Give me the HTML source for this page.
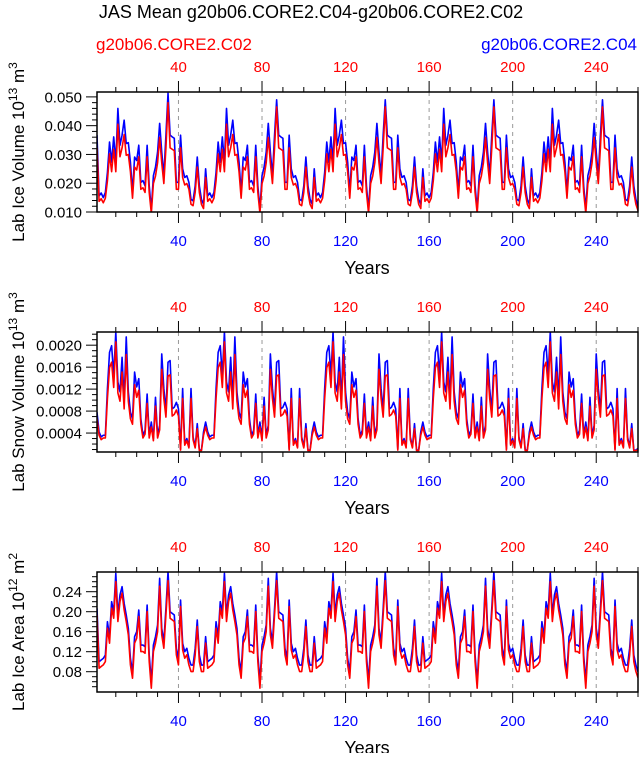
<!DOCTYPE html>
<html><head><meta charset="utf-8"><style>
html,body{margin:0;padding:0;background:#fff}
svg text{font-family:"Liberation Sans",Arial,sans-serif}
</style></head><body>
<svg id="chart" width="639" height="753" xmlns="http://www.w3.org/2000/svg">
<text x="311" y="18" font-size="18" text-anchor="middle">JAS Mean g20b06.CORE2.C04-g20b06.CORE2.C02</text>
<text x="96" y="50" font-size="17" fill="#ff0000">g20b06.CORE2.C02</text>
<text x="637" y="50" font-size="17" fill="#0000ff" text-anchor="end">g20b06.CORE2.C04</text>
</svg>
<script>
const years = [];
for (let i = 1; i <= 260; i++) years.push(i);
const xTicks = [40, 80, 120, 160, 200, 240];
const xTickLabels = ["40", "80", "120", "160", "200", "240"];

const iceVolBlue = [
0.0367,0.0156,0.0166,0.0150,0.0168,0.0238,0.0343,0.0273,0.0361,0.0273,0.0460,0.0332,0.0367,0.0419,0.0338,0.0341,0.0273,0.0168,0.0291,0.0279,0.0332,0.0203,0.0209,0.0191,0.0332,0.0191,0.0109,0.0226,0.0256,0.0308,0.0408,0.0308,0.0226,0.0367,0.0513,0.0367,0.0361,0.0356,0.0203,0.0203,0.0367,0.0250,0.0220,0.0226,0.0203,0.0144,0.0139,0.0191,0.0291,0.0191,0.0144,0.0127,
0.0250,0.0156,0.0166,0.0150,0.0168,0.0238,0.0343,0.0273,0.0361,0.0273,0.0460,0.0332,0.0367,0.0419,0.0338,0.0341,0.0273,0.0168,0.0291,0.0279,0.0332,0.0203,0.0209,0.0191,0.0332,0.0191,0.0109,0.0226,0.0256,0.0308,0.0408,0.0308,0.0226,0.0367,0.0490,0.0367,0.0361,0.0356,0.0203,0.0203,0.0367,0.0250,0.0220,0.0226,0.0203,0.0144,0.0139,0.0191,0.0291,0.0191,0.0144,0.0127,
0.0250,0.0156,0.0166,0.0150,0.0168,0.0238,0.0343,0.0273,0.0361,0.0273,0.0460,0.0332,0.0367,0.0419,0.0338,0.0341,0.0273,0.0168,0.0291,0.0279,0.0332,0.0203,0.0209,0.0191,0.0332,0.0191,0.0109,0.0226,0.0256,0.0308,0.0408,0.0308,0.0226,0.0367,0.0490,0.0367,0.0361,0.0356,0.0203,0.0203,0.0367,0.0250,0.0220,0.0226,0.0203,0.0144,0.0139,0.0191,0.0291,0.0191,0.0144,0.0127,
0.0250,0.0156,0.0166,0.0150,0.0168,0.0238,0.0343,0.0273,0.0361,0.0273,0.0460,0.0332,0.0367,0.0419,0.0338,0.0341,0.0273,0.0168,0.0291,0.0279,0.0332,0.0203,0.0209,0.0191,0.0332,0.0191,0.0109,0.0226,0.0256,0.0308,0.0408,0.0308,0.0226,0.0367,0.0490,0.0367,0.0361,0.0356,0.0203,0.0203,0.0367,0.0250,0.0220,0.0226,0.0203,0.0144,0.0139,0.0191,0.0291,0.0191,0.0144,0.0127,
0.0250,0.0156,0.0166,0.0150,0.0168,0.0238,0.0343,0.0273,0.0361,0.0273,0.0460,0.0332,0.0367,0.0419,0.0338,0.0341,0.0273,0.0168,0.0291,0.0279,0.0332,0.0203,0.0209,0.0191,0.0332,0.0191,0.0109,0.0226,0.0256,0.0308,0.0408,0.0308,0.0226,0.0367,0.0490,0.0367,0.0361,0.0356,0.0203,0.0203,0.0367,0.0250,0.0220,0.0226,0.0203,0.0144,0.0139,0.0191,0.0291,0.0191,0.0144,0.0120];
const iceVolRed = [
0.0323,0.0137,0.0146,0.0132,0.0148,0.0209,0.0302,0.0240,0.0318,0.0240,0.0405,0.0292,0.0323,0.0369,0.0297,0.0300,0.0240,0.0148,0.0256,0.0246,0.0292,0.0179,0.0184,0.0168,0.0292,0.0168,0.0096,0.0199,0.0225,0.0271,0.0359,0.0271,0.0199,0.0323,0.0480,0.0323,0.0318,0.0313,0.0179,0.0179,0.0323,0.0220,0.0194,0.0199,0.0179,0.0127,0.0122,0.0168,0.0256,0.0168,0.0127,0.0112,
0.0220,0.0137,0.0146,0.0132,0.0148,0.0209,0.0302,0.0240,0.0318,0.0240,0.0405,0.0292,0.0323,0.0369,0.0297,0.0300,0.0240,0.0148,0.0256,0.0246,0.0292,0.0179,0.0184,0.0168,0.0292,0.0168,0.0096,0.0199,0.0225,0.0271,0.0359,0.0271,0.0199,0.0323,0.0465,0.0323,0.0318,0.0313,0.0179,0.0179,0.0323,0.0220,0.0194,0.0199,0.0179,0.0127,0.0122,0.0168,0.0256,0.0168,0.0127,0.0112,
0.0220,0.0137,0.0146,0.0132,0.0148,0.0209,0.0302,0.0240,0.0318,0.0240,0.0405,0.0292,0.0323,0.0369,0.0297,0.0300,0.0240,0.0148,0.0256,0.0246,0.0292,0.0179,0.0184,0.0168,0.0292,0.0168,0.0096,0.0199,0.0225,0.0271,0.0359,0.0271,0.0199,0.0323,0.0465,0.0323,0.0318,0.0313,0.0179,0.0179,0.0323,0.0220,0.0194,0.0199,0.0179,0.0127,0.0122,0.0168,0.0256,0.0168,0.0127,0.0112,
0.0220,0.0137,0.0146,0.0132,0.0148,0.0209,0.0302,0.0240,0.0318,0.0240,0.0405,0.0292,0.0323,0.0369,0.0297,0.0300,0.0240,0.0148,0.0256,0.0246,0.0292,0.0179,0.0184,0.0168,0.0292,0.0168,0.0096,0.0199,0.0225,0.0271,0.0359,0.0271,0.0199,0.0323,0.0465,0.0323,0.0318,0.0313,0.0179,0.0179,0.0323,0.0220,0.0194,0.0199,0.0179,0.0127,0.0122,0.0168,0.0256,0.0168,0.0127,0.0112,
0.0220,0.0137,0.0146,0.0132,0.0148,0.0209,0.0302,0.0240,0.0318,0.0240,0.0405,0.0292,0.0323,0.0369,0.0297,0.0300,0.0240,0.0148,0.0256,0.0246,0.0292,0.0179,0.0184,0.0168,0.0292,0.0168,0.0096,0.0199,0.0225,0.0271,0.0359,0.0271,0.0199,0.0323,0.0465,0.0323,0.0318,0.0313,0.0179,0.0179,0.0323,0.0220,0.0194,0.0199,0.0179,0.0127,0.0122,0.0168,0.0256,0.0168,0.0127,0.0105];

const snowBlue = [
0.00078,0.00042,0.00033,0.00036,0.00036,0.00121,0.00187,0.00199,0.00145,0.00224,0.00133,0.00115,0.00178,0.00099,0.00215,0.00115,0.00078,0.00066,0.00151,0.00124,0.00139,0.00066,0.00036,0.00045,0.00111,0.00036,0.00060,0.00030,0.00105,0.00036,0.00054,0.00184,0.00121,0.00081,0.00169,0.00172,0.00084,0.00087,0.00096,0.00084,0.00011,0.00121,0.00021,0.00030,0.00015,0.00121,0.00033,0.00015,0.00057,0.00009,0.00009,0.00042,
0.00060,0.00042,0.00033,0.00036,0.00036,0.00121,0.00187,0.00199,0.00145,0.00224,0.00133,0.00115,0.00178,0.00099,0.00215,0.00115,0.00078,0.00066,0.00151,0.00124,0.00139,0.00066,0.00036,0.00045,0.00111,0.00036,0.00060,0.00030,0.00105,0.00036,0.00054,0.00184,0.00121,0.00081,0.00169,0.00172,0.00084,0.00087,0.00096,0.00084,0.00011,0.00121,0.00021,0.00030,0.00015,0.00121,0.00033,0.00015,0.00057,0.00009,0.00009,0.00042,
0.00060,0.00042,0.00033,0.00036,0.00036,0.00121,0.00187,0.00199,0.00145,0.00224,0.00133,0.00115,0.00178,0.00099,0.00215,0.00115,0.00078,0.00066,0.00151,0.00124,0.00139,0.00066,0.00036,0.00045,0.00111,0.00036,0.00060,0.00030,0.00105,0.00036,0.00054,0.00184,0.00121,0.00081,0.00169,0.00172,0.00084,0.00087,0.00096,0.00084,0.00011,0.00121,0.00021,0.00030,0.00015,0.00121,0.00033,0.00015,0.00057,0.00009,0.00009,0.00042,
0.00060,0.00042,0.00033,0.00036,0.00036,0.00121,0.00187,0.00199,0.00145,0.00224,0.00133,0.00115,0.00178,0.00099,0.00215,0.00115,0.00078,0.00066,0.00151,0.00124,0.00139,0.00066,0.00036,0.00045,0.00111,0.00036,0.00060,0.00030,0.00105,0.00036,0.00054,0.00184,0.00121,0.00081,0.00169,0.00172,0.00084,0.00087,0.00096,0.00084,0.00011,0.00121,0.00021,0.00030,0.00015,0.00121,0.00033,0.00015,0.00057,0.00009,0.00009,0.00042,
0.00060,0.00042,0.00033,0.00036,0.00036,0.00121,0.00187,0.00199,0.00145,0.00224,0.00133,0.00115,0.00178,0.00099,0.00215,0.00115,0.00078,0.00066,0.00151,0.00124,0.00139,0.00066,0.00036,0.00045,0.00111,0.00036,0.00060,0.00030,0.00105,0.00036,0.00054,0.00184,0.00121,0.00081,0.00169,0.00172,0.00084,0.00087,0.00096,0.00084,0.00011,0.00121,0.00021,0.00030,0.00015,0.00121,0.00033,0.00015,0.00057,0.00009,0.00009,0.00012];
const snowRed = [
0.00066,0.00036,0.00028,0.00031,0.00031,0.00103,0.00159,0.00169,0.00123,0.00206,0.00113,0.00098,0.00151,0.00084,0.00183,0.00098,0.00066,0.00056,0.00128,0.00105,0.00118,0.00056,0.00031,0.00038,0.00094,0.00031,0.00051,0.00026,0.00089,0.00031,0.00046,0.00156,0.00103,0.00069,0.00144,0.00146,0.00071,0.00074,0.00082,0.00071,0.00009,0.00103,0.00018,0.00026,0.00013,0.00103,0.00028,0.00013,0.00048,0.00008,0.00008,0.00036,
0.00051,0.00036,0.00028,0.00031,0.00031,0.00103,0.00159,0.00169,0.00123,0.00206,0.00113,0.00098,0.00151,0.00084,0.00183,0.00098,0.00066,0.00056,0.00128,0.00105,0.00118,0.00056,0.00031,0.00038,0.00094,0.00031,0.00051,0.00026,0.00089,0.00031,0.00046,0.00156,0.00103,0.00069,0.00144,0.00146,0.00071,0.00074,0.00082,0.00071,0.00009,0.00103,0.00018,0.00026,0.00013,0.00103,0.00028,0.00013,0.00048,0.00008,0.00008,0.00036,
0.00051,0.00036,0.00028,0.00031,0.00031,0.00103,0.00159,0.00169,0.00123,0.00206,0.00113,0.00098,0.00151,0.00084,0.00183,0.00098,0.00066,0.00056,0.00128,0.00105,0.00118,0.00056,0.00031,0.00038,0.00094,0.00031,0.00051,0.00026,0.00089,0.00031,0.00046,0.00156,0.00103,0.00069,0.00144,0.00146,0.00071,0.00074,0.00082,0.00071,0.00009,0.00103,0.00018,0.00026,0.00013,0.00103,0.00028,0.00013,0.00048,0.00008,0.00008,0.00036,
0.00051,0.00036,0.00028,0.00031,0.00031,0.00103,0.00159,0.00169,0.00123,0.00206,0.00113,0.00098,0.00151,0.00084,0.00183,0.00098,0.00066,0.00056,0.00128,0.00105,0.00118,0.00056,0.00031,0.00038,0.00094,0.00031,0.00051,0.00026,0.00089,0.00031,0.00046,0.00156,0.00103,0.00069,0.00144,0.00146,0.00071,0.00074,0.00082,0.00071,0.00009,0.00103,0.00018,0.00026,0.00013,0.00103,0.00028,0.00013,0.00048,0.00008,0.00008,0.00036,
0.00051,0.00036,0.00028,0.00031,0.00031,0.00103,0.00159,0.00169,0.00123,0.00206,0.00113,0.00098,0.00151,0.00084,0.00183,0.00098,0.00066,0.00056,0.00128,0.00105,0.00118,0.00056,0.00031,0.00038,0.00094,0.00031,0.00051,0.00026,0.00089,0.00031,0.00046,0.00156,0.00103,0.00069,0.00144,0.00146,0.00071,0.00074,0.00082,0.00071,0.00009,0.00103,0.00018,0.00026,0.00013,0.00103,0.00028,0.00013,0.00048,0.00008,0.00008,0.00010];

const areaBlue = [
0.2067,0.0999,0.1033,0.1066,0.1133,0.1800,0.1500,0.2200,0.2000,0.2767,0.1934,0.2334,0.2500,0.2167,0.1934,0.1667,0.1066,0.0800,0.1500,0.1600,0.2034,0.1333,0.1333,0.1300,0.2134,0.1133,0.0600,0.1333,0.1500,0.1733,0.2667,0.1667,0.1400,0.2067,0.2800,0.2000,0.1967,0.1934,0.1267,0.1066,0.2234,0.1367,0.1200,0.1267,0.1066,0.0933,0.0933,0.1267,0.1834,0.1133,0.0933,0.0933,
0.1500,0.0999,0.1033,0.1066,0.1133,0.1800,0.1500,0.2200,0.2000,0.2767,0.1934,0.2334,0.2500,0.2167,0.1934,0.1667,0.1066,0.0800,0.1500,0.1600,0.2034,0.1333,0.1333,0.1300,0.2134,0.1133,0.0600,0.1333,0.1500,0.1733,0.2667,0.1667,0.1400,0.2067,0.2800,0.2000,0.1967,0.1934,0.1267,0.1066,0.2234,0.1367,0.1200,0.1267,0.1066,0.0933,0.0933,0.1267,0.1834,0.1133,0.0933,0.0933,
0.1500,0.0999,0.1033,0.1066,0.1133,0.1800,0.1500,0.2200,0.2000,0.2767,0.1934,0.2334,0.2500,0.2167,0.1934,0.1667,0.1066,0.0800,0.1500,0.1600,0.2034,0.1333,0.1333,0.1300,0.2134,0.1133,0.0600,0.1333,0.1500,0.1733,0.2667,0.1667,0.1400,0.2067,0.2800,0.2000,0.1967,0.1934,0.1267,0.1066,0.2234,0.1367,0.1200,0.1267,0.1066,0.0933,0.0933,0.1267,0.1834,0.1133,0.0933,0.0933,
0.1500,0.0999,0.1033,0.1066,0.1133,0.1800,0.1500,0.2200,0.2000,0.2767,0.1934,0.2334,0.2500,0.2167,0.1934,0.1667,0.1066,0.0800,0.1500,0.1600,0.2034,0.1333,0.1333,0.1300,0.2134,0.1133,0.0600,0.1333,0.1500,0.1733,0.2667,0.1667,0.1400,0.2067,0.2800,0.2000,0.1967,0.1934,0.1267,0.1066,0.2234,0.1367,0.1200,0.1267,0.1066,0.0933,0.0933,0.1267,0.1834,0.1133,0.0933,0.0933,
0.1500,0.0999,0.1033,0.1066,0.1133,0.1800,0.1500,0.2200,0.2000,0.2767,0.1934,0.2334,0.2500,0.2167,0.1934,0.1667,0.1066,0.0800,0.1500,0.1600,0.2034,0.1333,0.1333,0.1300,0.2134,0.1133,0.0600,0.1333,0.1500,0.1733,0.2667,0.1667,0.1400,0.2067,0.2800,0.2000,0.1967,0.1934,0.1267,0.1066,0.2234,0.1367,0.1200,0.1267,0.1066,0.0933,0.0933,0.1267,0.1834,0.1133,0.0933,0.0800];
const areaRed = [
0.1937,0.0869,0.0903,0.0936,0.1003,0.1670,0.1370,0.2070,0.1870,0.2600,0.1804,0.2204,0.2370,0.2037,0.1804,0.1537,0.0936,0.0670,0.1370,0.1470,0.1904,0.1203,0.1203,0.1170,0.2004,0.1003,0.0470,0.1203,0.1370,0.1603,0.2510,0.1537,0.1270,0.1937,0.2620,0.1870,0.1837,0.1804,0.1137,0.0936,0.2104,0.1237,0.1070,0.1137,0.0936,0.0803,0.0803,0.1137,0.1704,0.1003,0.0803,0.0803,
0.1370,0.0869,0.0903,0.0936,0.1003,0.1670,0.1370,0.2070,0.1870,0.2600,0.1804,0.2204,0.2370,0.2037,0.1804,0.1537,0.0936,0.0670,0.1370,0.1470,0.1904,0.1203,0.1203,0.1170,0.2004,0.1003,0.0470,0.1203,0.1370,0.1603,0.2510,0.1537,0.1270,0.1937,0.2620,0.1870,0.1837,0.1804,0.1137,0.0936,0.2104,0.1237,0.1070,0.1137,0.0936,0.0803,0.0803,0.1137,0.1704,0.1003,0.0803,0.0803,
0.1370,0.0869,0.0903,0.0936,0.1003,0.1670,0.1370,0.2070,0.1870,0.2600,0.1804,0.2204,0.2370,0.2037,0.1804,0.1537,0.0936,0.0670,0.1370,0.1470,0.1904,0.1203,0.1203,0.1170,0.2004,0.1003,0.0470,0.1203,0.1370,0.1603,0.2510,0.1537,0.1270,0.1937,0.2620,0.1870,0.1837,0.1804,0.1137,0.0936,0.2104,0.1237,0.1070,0.1137,0.0936,0.0803,0.0803,0.1137,0.1704,0.1003,0.0803,0.0803,
0.1370,0.0869,0.0903,0.0936,0.1003,0.1670,0.1370,0.2070,0.1870,0.2600,0.1804,0.2204,0.2370,0.2037,0.1804,0.1537,0.0936,0.0670,0.1370,0.1470,0.1904,0.1203,0.1203,0.1170,0.2004,0.1003,0.0470,0.1203,0.1370,0.1603,0.2510,0.1537,0.1270,0.1937,0.2620,0.1870,0.1837,0.1804,0.1137,0.0936,0.2104,0.1237,0.1070,0.1137,0.0936,0.0803,0.0803,0.1137,0.1704,0.1003,0.0803,0.0803,
0.1370,0.0869,0.0903,0.0936,0.1003,0.1670,0.1370,0.2070,0.1870,0.2600,0.1804,0.2204,0.2370,0.2037,0.1804,0.1537,0.0936,0.0670,0.1370,0.1470,0.1904,0.1203,0.1203,0.1170,0.2004,0.1003,0.0470,0.1203,0.1370,0.1603,0.2510,0.1537,0.1270,0.1937,0.2620,0.1870,0.1837,0.1804,0.1137,0.0936,0.2104,0.1237,0.1070,0.1137,0.0936,0.0803,0.0803,0.1137,0.1704,0.1003,0.0803,0.0680];

const volTicks = [0.010, 0.020, 0.030, 0.040, 0.050];
const volTickLabels = ["0.010", "0.020", "0.030", "0.040", "0.050"];
const snowTicks = [0.0004, 0.0008, 0.0012, 0.0016, 0.0020];
const snowTickLabels = ["0.0004", "0.0008", "0.0012", "0.0016", "0.0020"];
const areaTicks = [0.08, 0.12, 0.16, 0.20, 0.24];
const areaTickLabels = ["0.08", "0.12", "0.16", "0.20", "0.24"];

const NS = "http://www.w3.org/2000/svg";
const svg = document.getElementById("chart");
const X0 = 97, X1 = 638, XMIN = 1, XMAX = 260;
function xs(v){ return X0 + (v - XMIN) / (XMAX - XMIN) * (X1 - X0); }
function mk(tag, attrs, parent){
  const e = document.createElementNS(NS, tag);
  for (const k in attrs) e.setAttribute(k, attrs[k]);
  (parent || svg).appendChild(e);
  return e;
}

function panel(cfg){
  const g = mk("g", {});
  
  
  const ys = v => cfg.bottom - (v - cfg.vmin) / (cfg.vmax - cfg.vmin) * (cfg.bottom - cfg.top);
  const clipId = cfg.name + "-clip";
  const cp = mk("clipPath", {id: clipId}, g);
  mk("rect", {x: X0, y: cfg.top, width: X1 - X0, height: cfg.bottom - cfg.top}, cp);
  // dashed gridlines
  xTicks.forEach(t => {
    const l = mk("line", {x1: xs(t), x2: xs(t), y1: cfg.top, y2: cfg.bottom, stroke: "#999", "stroke-width": 1, "stroke-dasharray": "4,4"}, g);
    
    
  });
  // series
  [[cfg.blue, "#0000ff", "series-c04"], [cfg.red, "#ff0000", "series-c02"]].forEach(s => {
    let d = "";
    s[0].forEach((v, i) => { d += (i ? "L" : "M") + xs(years[i]).toFixed(2) + "," + ys(v).toFixed(2); });
    const p = mk("path", {d: d, fill: "none", stroke: s[1], "stroke-width": 1.6, "stroke-linejoin": "round", "clip-path": "url(#" + clipId + ")"}, g);
    
    
  });
  // frame
  const fr = mk("rect", {x: X0, y: cfg.top, width: X1 - X0, height: cfg.bottom - cfg.top, fill: "none", stroke: "#000", "stroke-width": 1.5}, g);
  
  
  // x ticks
  for (let yv = 10; yv <= 260; yv += 10) {
    const major = yv % 40 === 0;
    const len = major ? 11 : 5;
    mk("line", {x1: xs(yv), x2: xs(yv), y1: cfg.top, y2: cfg.top - len, stroke: "#000", "stroke-width": 1}, g);
    mk("line", {x1: xs(yv), x2: xs(yv), y1: cfg.bottom, y2: cfg.bottom + len, stroke: "#000", "stroke-width": 1}, g);
  }
  xTicks.forEach((t, i) => {
    const a = mk("text", {x: xs(t), y: cfg.top - 20, "font-size": 15, fill: "#ff0000", "text-anchor": "middle"}, g);
    a.textContent = xTickLabels[i];
    
    
    const b = mk("text", {x: xs(t), y: cfg.bottom + 34, "font-size": 15, fill: "#0000ff", "text-anchor": "middle"}, g);
    b.textContent = xTickLabels[i];
    
    
  });
  // y ticks
  for (let k = 0; ; k++) {
    const v = cfg.minorStart + k * cfg.minorStep;
    if (v > cfg.vmax + 1e-12) break;
    const isMajor = cfg.ticks.some(t => Math.abs(t - v) < cfg.minorStep / 10);
    const len = isMajor ? 11 : 5;
    mk("line", {x1: X0, x2: X0 - len, y1: ys(v), y2: ys(v), stroke: "#000", "stroke-width": 1}, g);
  }
  cfg.ticks.forEach((t, i) => {
    const tx = mk("text", {x: X0 - 15, y: ys(t) + 5.5, "font-size": 15, "text-anchor": "end"}, g);
    tx.textContent = cfg.tickLabels[i];
    
    
  });
  // axis titles
  const xt = mk("text", {x: 367, y: cfg.bottom + 62, "font-size": 18, "text-anchor": "middle"}, g);
  xt.textContent = "Years";
  
  
  const cy = (cfg.top + cfg.bottom) / 2;
  const yt = mk("text", {x: 0, y: 0, "font-size": 17, "text-anchor": "middle", transform: "translate(24," + cy + ") rotate(-90)"}, g);
  
  
  const t1 = mk("tspan", {}, yt); t1.textContent = cfg.title + " 10";
  const t2 = mk("tspan", {dy: -7, "font-size": 12}, yt); t2.textContent = cfg.exp;
  const t3 = mk("tspan", {dy: 7}, yt); t3.textContent = " " + cfg.unit;
  const t4 = mk("tspan", {dy: -7, "font-size": 12}, yt); t4.textContent = cfg.unitExp;
}

panel({name: "ice-volume-panel", top: 92, bottom: 212, vmin: 0.010, vmax: 0.0517, blue: iceVolBlue, red: iceVolRed,
  ticks: volTicks, tickLabels: volTickLabels, minorStart: 0.010, minorStep: 0.002,
  title: "Lab Ice Volume", exp: "13", unit: "m", unitExp: "3"});
panel({name: "snow-volume-panel", top: 332, bottom: 452, vmin: 0.000055, vmax: 0.00224, blue: snowBlue, red: snowRed,
  ticks: snowTicks, tickLabels: snowTickLabels, minorStart: 0.0001, minorStep: 0.0001,
  title: "Lab Snow Volume", exp: "13", unit: "m", unitExp: "3"});
panel({name: "ice-area-panel", top: 572, bottom: 692, vmin: 0.0394, vmax: 0.2794, blue: areaBlue, red: areaRed,
  ticks: areaTicks, tickLabels: areaTickLabels, minorStart: 0.05, minorStep: 0.01,
  title: "Lab Ice Area", exp: "12", unit: "m", unitExp: "2"});
</script>
</body></html>
